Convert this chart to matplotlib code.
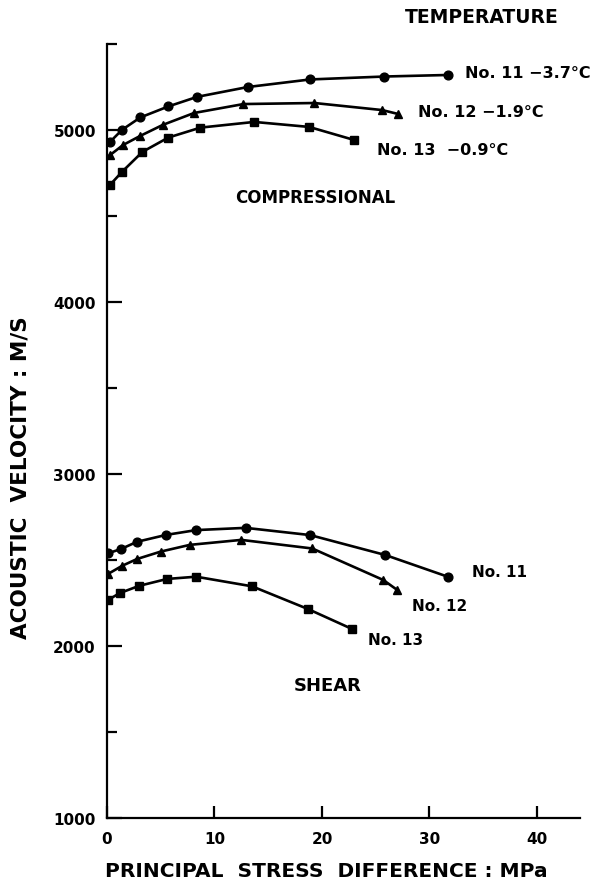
import numpy as np
import matplotlib
matplotlib.use('Agg')
import matplotlib.pyplot as plt
from matplotlib.ticker import MultipleLocator

# compressional wave velocity (M/S) vs principal stress difference (MPa)
comp11_x = [0.3, 1.4, 3.1, 5.7, 8.4, 13.1, 18.9, 25.8, 31.7]
comp11_v = [4932, 5001, 5073, 5137, 5193, 5250, 5294, 5311, 5320]
comp12_x = [0.3, 1.5, 3.1, 5.2, 8.1, 12.7, 19.3, 25.6, 27.1]
comp12_v = [4855, 4913, 4966, 5030, 5099, 5151, 5157, 5116, 5093]
comp13_x = [0.3, 1.4, 3.3, 5.7, 8.7, 13.7, 18.8, 23.0]
comp13_v = [4682, 4757, 4873, 4956, 5014, 5047, 5018, 4942]

# shear wave velocity
shear11_x = [0.1, 1.3, 2.8, 5.5, 8.3, 12.9, 18.9, 25.9, 31.7]
shear11_v = [2539, 2564, 2606, 2646, 2674, 2687, 2645, 2529, 2403]
shear12_x = [0.1, 1.4, 2.8, 5.0, 7.7, 12.5, 19.1, 25.7, 27.0]
shear12_v = [2419, 2466, 2506, 2549, 2588, 2617, 2567, 2384, 2326]
shear13_x = [0.1, 1.2, 3.0, 5.6, 8.3, 13.5, 18.7, 22.8]
shear13_v = [2268, 2308, 2350, 2390, 2403, 2347, 2215, 2099]

comp_labels = ['No. 11 \u22123.7\u00b0C', 'No. 12 \u22121.9\u00b0C', 'No. 13  \u22120.9\u00b0C']
shear_labels = ['No. 11', 'No. 12', 'No. 13']

plt.rcParams['font.family'] = 'DejaVu Sans'
plt.rcParams['font.weight'] = 'bold'

fig = plt.figure(figsize=(5.93, 8.95), dpi=100)
ax = fig.add_axes([0.1804, 0.0849, 0.7976, 0.8648])

line_kw = dict(color='black', lw=1.9, markersize=6.3)
ax.plot(comp11_x, comp11_v, marker='o', **line_kw)
ax.plot(comp12_x, comp12_v, marker='^', **line_kw)
ax.plot(comp13_x, comp13_v, marker='s', **line_kw)
ax.plot(shear11_x, shear11_v, marker='o', **line_kw)
ax.plot(shear12_x, shear12_v, marker='^', **line_kw)
ax.plot(shear13_x, shear13_v, marker='s', **line_kw)

ax.set_xlim(0, 44)
ax.set_ylim(1000, 5500)
for side in ['top', 'right']:
    ax.spines[side].set_visible(False)
for side in ['left', 'bottom']:
    ax.spines[side].set_linewidth(1.6)

ax.xaxis.set_major_locator(MultipleLocator(10))
ax.set_yticks([1000, 2000, 3000, 4000, 5000])
ax.set_yticks([1500, 2500, 3500, 4500, 5500], minor=True)
ax.tick_params(axis='both', which='major', direction='in', width=1.6, labelsize=11)
ax.tick_params(axis='y', which='major', length=11, pad=8)
ax.tick_params(axis='y', which='minor', direction='in', length=7, width=1.6)
ax.tick_params(axis='x', which='major', length=9, pad=9)

# curve labels
ax.text(33.3, 5337, comp_labels[0], fontsize=11.5, va='center', ha='left')
ax.text(28.9, 5105, comp_labels[1], fontsize=11.5, va='center', ha='left')
ax.text(25.1, 4884, comp_labels[2], fontsize=11.5, va='center', ha='left')
ax.text(34.0, 2436, shear_labels[0], fontsize=11, va='center', ha='left')
ax.text(28.4, 2238, shear_labels[1], fontsize=11, va='center', ha='left')
ax.text(24.3, 2035, shear_labels[2], fontsize=11, va='center', ha='left')

ax.text(19.4, 4610, 'COMPRESSIONAL', fontsize=12, ha='center', va='center')
ax.text(20.5, 1773, 'SHEAR', fontsize=13, ha='center', va='center')
fig.text(0.8128, 0.981, 'TEMPERATURE', fontsize=13.5, ha='center', va='center')

fig.text(0.551, 0.0257, 'PRINCIPAL  STRESS  DIFFERENCE : MPa', fontsize=14.5,
         ha='center', va='center')
fig.text(0.034, 0.466, 'ACOUSTIC  VELOCITY : M/S', fontsize=15.5, rotation=90,
         ha='center', va='center')

fig.savefig('out.png', dpi=100)
